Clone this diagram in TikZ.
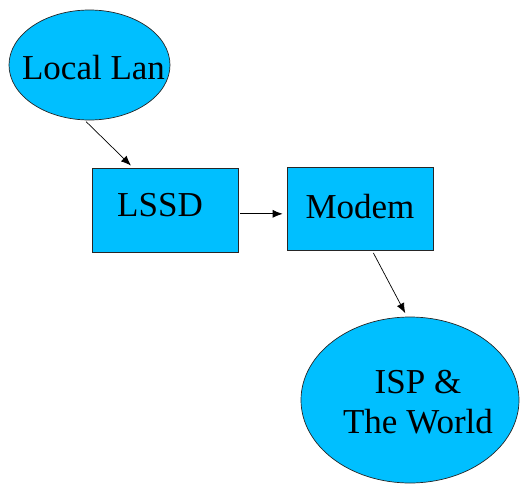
\documentclass[tikz,border=0pt]{standalone}
\usepackage{fontspec}
\setmainfont{Liberation Serif}
\usetikzlibrary{shapes.geometric,arrows.meta}
\definecolor{skyfill}{RGB}{0,191,255}

\begin{document}
\begin{tikzpicture}[x=1pt,y=-1pt,
        blob/.style={ellipse,draw=black!85,fill=skyfill,line width=0.7pt,inner sep=0pt},
        box/.style={rectangle,draw=black!85,fill=skyfill,line width=0.7pt,inner sep=0pt,
            minimum width=146pt,minimum height=84pt},
        link/.style={-{Latex[length=10pt,width=8pt]},line width=0.7pt,
            shorten <=2pt,shorten >=3pt},
        font=\fontsize{35}{40}\selectfont]
        \useasboundingbox (0,0) rectangle (520,485);

        %% The four parts of the network
        \node [blob,minimum width=161pt,minimum height=110pt,
            label={[shift={(4pt,-3pt)}]center:Local Lan}] (lan) at (89.5,65) {};
        \node [box,label={[shift={(-5pt,5pt)}]center:LSSD}] (lssd) at (165,210) {};
        \node [box,minimum height=83pt,label={[shift={(0pt,2pt)}]center:Modem}] (modem) at (360,208.5) {};
        \node [blob,minimum width=218pt,minimum height=166pt,
            label={[shift={(8pt,-2pt)},align=center]center:ISP \&\\The World}] (isp) at (410,400) {};

        %% Links
        \draw [link] (lan.265) -- (lssd.127);
        \draw [link,shorten >=4pt] (lssd.-3) -- (modem.west |- lssd.-3);
        \draw [link,shorten <=3pt,shorten >=4pt] (modem.-74) -- (isp.92);
    \end{tikzpicture}
\end{document}
